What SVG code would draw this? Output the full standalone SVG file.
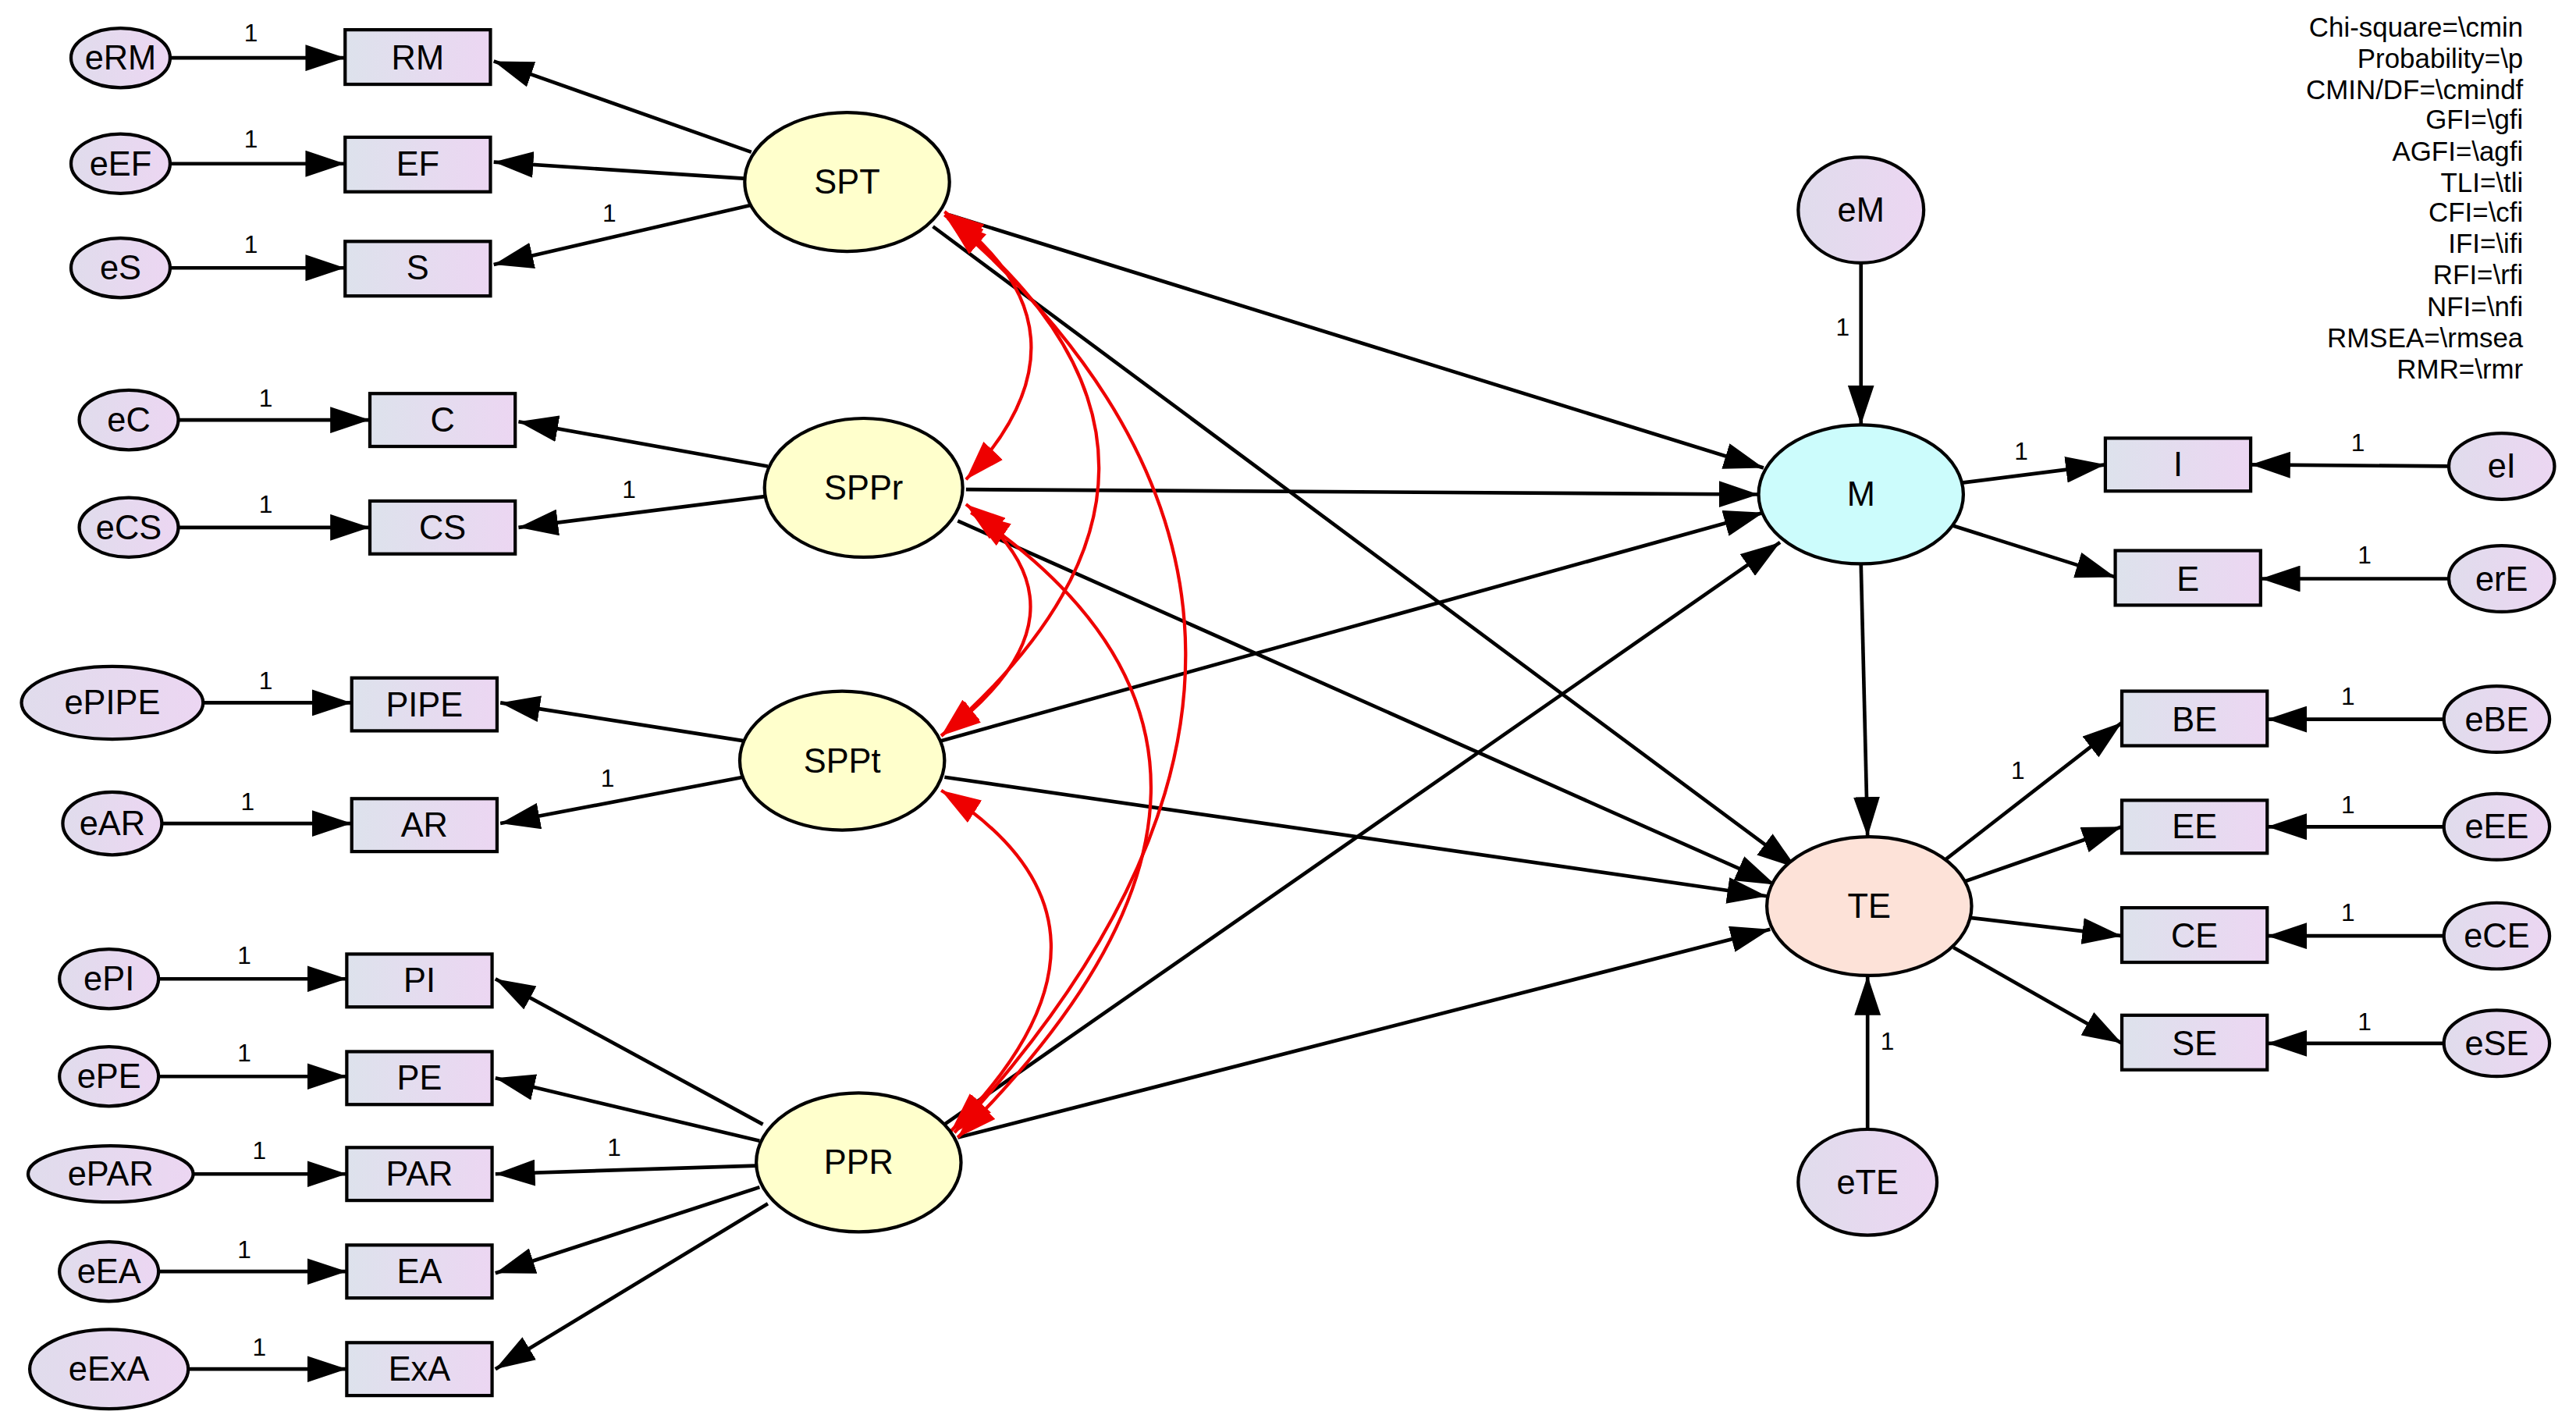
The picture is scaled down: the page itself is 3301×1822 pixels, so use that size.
<svg xmlns="http://www.w3.org/2000/svg" width="3301" height="1822" viewBox="0 0 3301 1822">
<style>
.n{stroke:#000;stroke-width:2}
.e{fill:url(#ge)}
.b{fill:url(#gb)}
.l{fill:#ffffcc}
text{font-family:"Liberation Sans",Arial,sans-serif;fill:#000}
.t{font-size:20.5px;text-anchor:middle;dominant-baseline:central}
.one{font-size:15px;text-anchor:middle}
.fit{font-size:16.5px;text-anchor:end}
.c line{stroke:#000;stroke-width:2.2;marker-end:url(#a)}
.r path{stroke:#e00;stroke-width:2;fill:none;marker-start:url(#ar);marker-end:url(#ar)}
</style>
<defs>
<linearGradient id="gb" x1="0" x2="1"><stop offset="0" stop-color="#dde2ec"/><stop offset="1" stop-color="#ecd6f2"/></linearGradient>
<linearGradient id="ge" x1="0" x2="1"><stop offset="0" stop-color="#e0dcec"/><stop offset="1" stop-color="#ecd6f2"/></linearGradient>
<marker id="a" markerUnits="userSpaceOnUse" markerWidth="24" markerHeight="16" refX="24" refY="8" orient="auto"><path d="M0,0L24,8L0,16z" fill="#000"/></marker>
<marker id="ar" markerUnits="userSpaceOnUse" markerWidth="24" markerHeight="16" refX="24" refY="8" orient="auto-start-reverse"><path d="M0,0L24,8L0,16z" fill="#e00"/></marker>
</defs>
<rect width="3301" height="1822" fill="#fff"/>
<g transform="scale(2.116,2.1186)">
<g id="connectors" class="c">
<line x1="103" y1="35" x2="209" y2="35"/>
<line x1="103" y1="99" x2="209" y2="99"/>
<line x1="103" y1="162" x2="209" y2="162"/>
<line x1="108" y1="254" x2="224" y2="254"/>
<line x1="108" y1="319" x2="224" y2="319"/>
<line x1="123" y1="425" x2="213" y2="425"/>
<line x1="98" y1="498" x2="213" y2="498"/>
<line x1="96" y1="592" x2="210" y2="592"/>
<line x1="96" y1="651" x2="210" y2="651"/>
<line x1="117" y1="710" x2="210" y2="710"/>
<line x1="96" y1="769" x2="210" y2="769"/>
<line x1="114" y1="828" x2="210" y2="828"/>
<line x1="455" y1="92" x2="299" y2="37"/>
<line x1="452" y1="108" x2="299" y2="98"/>
<line x1="455" y1="124" x2="299" y2="160"/>
<line x1="465" y1="282" x2="314" y2="255"/>
<line x1="465" y1="300" x2="314" y2="319"/>
<line x1="450" y1="448" x2="303" y2="425"/>
<line x1="450" y1="470" x2="303" y2="498"/>
<line x1="462" y1="680" x2="300" y2="592"/>
<line x1="460" y1="690" x2="300" y2="652"/>
<line x1="458" y1="705" x2="300" y2="710"/>
<line x1="460" y1="718" x2="300" y2="770"/>
<line x1="465" y1="728" x2="300" y2="828"/>
<line x1="575" y1="130" x2="1068" y2="283"/>
<line x1="565" y1="137" x2="1088" y2="525"/>
<line x1="585" y1="296" x2="1065" y2="299"/>
<line x1="580" y1="315" x2="1075" y2="535"/>
<line x1="570" y1="448" x2="1068" y2="310"/>
<line x1="572" y1="470" x2="1070" y2="542"/>
<line x1="572" y1="680" x2="1078" y2="328"/>
<line x1="580" y1="688" x2="1072" y2="562"/>
<line x1="1127" y1="341" x2="1131" y2="506"/>
<line x1="1127" y1="159" x2="1127" y2="257"/>
<line x1="1131" y1="683" x2="1131" y2="590"/>
<line x1="1188" y1="292" x2="1275" y2="281"/>
<line x1="1183" y1="318" x2="1281" y2="349"/>
<line x1="1178" y1="520" x2="1285" y2="437"/>
<line x1="1190" y1="533" x2="1285" y2="500"/>
<line x1="1193" y1="555" x2="1285" y2="566"/>
<line x1="1183" y1="573" x2="1285" y2="631"/>
<line x1="1483" y1="282" x2="1363" y2="281"/>
<line x1="1483" y1="350" x2="1369" y2="350"/>
<line x1="1480" y1="435" x2="1373" y2="435"/>
<line x1="1480" y1="500" x2="1373" y2="500"/>
<line x1="1480" y1="566" x2="1373" y2="566"/>
<line x1="1480" y1="631" x2="1373" y2="631"/>
</g>
<g id="covariances" class="r">
<path d="M572,128 Q670,200 585,290"/>
<path d="M572,130 Q760,280 570,445"/>
<path d="M574,132 Q860,380 578,685"/>
<path d="M585,305 Q670,370 570,445"/>
<path d="M588,310 Q810,460 580,688"/>
<path d="M570,478 Q700,560 576,684"/>
</g>
<g id="weights" class="one">
<text x="152" y="25">1</text><text x="152" y="89">1</text><text x="152" y="153">1</text>
<text x="369" y="134">1</text><text x="161" y="246">1</text><text x="161" y="310">1</text>
<text x="381" y="301">1</text><text x="161" y="417">1</text><text x="150" y="490">1</text>
<text x="368" y="476">1</text><text x="148" y="583">1</text><text x="148" y="642">1</text>
<text x="157" y="701">1</text><text x="372" y="699">1</text><text x="148" y="761">1</text>
<text x="157" y="820">1</text><text x="1116" y="203">1</text><text x="1224" y="278">1</text>
<text x="1428" y="273">1</text><text x="1432" y="341">1</text><text x="1222" y="471">1</text>
<text x="1422" y="426">1</text><text x="1422" y="492">1</text><text x="1422" y="557">1</text>
<text x="1432" y="623">1</text><text x="1143" y="635">1</text>
</g>
<g id="eRM"><ellipse class="n e" cx="73" cy="35" rx="30" ry="18"/><text class="t" x="73" y="35">eRM</text></g>
<g id="eEF"><ellipse class="n e" cx="73" cy="99" rx="30" ry="18"/><text class="t" x="73" y="99">eEF</text></g>
<g id="eS"><ellipse class="n e" cx="73" cy="162" rx="30" ry="18"/><text class="t" x="73" y="162">eS</text></g>
<g id="eC"><ellipse class="n e" cx="78" cy="254" rx="30" ry="18"/><text class="t" x="78" y="254">eC</text></g>
<g id="eCS"><ellipse class="n e" cx="78" cy="319" rx="30" ry="18"/><text class="t" x="78" y="319">eCS</text></g>
<g id="ePIPE"><ellipse class="n e" cx="68" cy="425" rx="55" ry="22"/><text class="t" x="68" y="425">ePIPE</text></g>
<g id="eAR"><ellipse class="n e" cx="68" cy="498" rx="30" ry="19"/><text class="t" x="68" y="498">eAR</text></g>
<g id="ePI"><ellipse class="n e" cx="66" cy="592" rx="30" ry="18"/><text class="t" x="66" y="592">ePI</text></g>
<g id="ePE"><ellipse class="n e" cx="66" cy="651" rx="30" ry="18"/><text class="t" x="66" y="651">ePE</text></g>
<g id="ePAR"><ellipse class="n e" cx="67" cy="710" rx="50" ry="17"/><text class="t" x="67" y="710">ePAR</text></g>
<g id="eEA"><ellipse class="n e" cx="66" cy="769" rx="30" ry="18"/><text class="t" x="66" y="769">eEA</text></g>
<g id="eExA"><ellipse class="n e" cx="66" cy="828" rx="48" ry="24"/><text class="t" x="66" y="828">eExA</text></g>
<g id="RM"><rect class="n b" x="209" y="18" width="88" height="33"/><text class="t" x="253" y="35">RM</text></g>
<g id="EF"><rect class="n b" x="209" y="83" width="88" height="33"/><text class="t" x="253" y="99">EF</text></g>
<g id="S"><rect class="n b" x="209" y="146" width="88" height="33"/><text class="t" x="253" y="162">S</text></g>
<g id="C"><rect class="n b" x="224" y="238" width="88" height="32"/><text class="t" x="268" y="254">C</text></g>
<g id="CS"><rect class="n b" x="224" y="303" width="88" height="32"/><text class="t" x="268" y="319">CS</text></g>
<g id="PIPE"><rect class="n b" x="213" y="410" width="88" height="32"/><text class="t" x="257" y="426">PIPE</text></g>
<g id="AR"><rect class="n b" x="213" y="483" width="88" height="32"/><text class="t" x="257" y="499">AR</text></g>
<g id="PI"><rect class="n b" x="210" y="577" width="88" height="32"/><text class="t" x="254" y="593">PI</text></g>
<g id="PE"><rect class="n b" x="210" y="636" width="88" height="32"/><text class="t" x="254" y="652">PE</text></g>
<g id="PAR"><rect class="n b" x="210" y="694" width="88" height="32"/><text class="t" x="254" y="710">PAR</text></g>
<g id="EA"><rect class="n b" x="210" y="753" width="88" height="32"/><text class="t" x="254" y="769">EA</text></g>
<g id="ExA"><rect class="n b" x="210" y="812" width="88" height="32"/><text class="t" x="254" y="828">ExA</text></g>
<g id="SPT"><ellipse class="n l" cx="513" cy="110" rx="62" ry="42"/><text class="t" x="513" y="110">SPT</text></g>
<g id="SPPr"><ellipse class="n l" cx="523" cy="295" rx="60" ry="42"/><text class="t" x="523" y="295">SPPr</text></g>
<g id="SPPt"><ellipse class="n l" cx="510" cy="460" rx="62" ry="42"/><text class="t" x="510" y="460">SPPt</text></g>
<g id="PPR"><ellipse class="n l" cx="520" cy="703" rx="62" ry="42"/><text class="t" x="520" y="703">PPR</text></g>
<g id="M"><ellipse class="n" fill="#ccfcfc" cx="1127" cy="299" rx="62" ry="42"/><text class="t" x="1127" y="299">M</text></g>
<g id="TE"><ellipse class="n" fill="#fde2d8" cx="1132" cy="548" rx="62" ry="42"/><text class="t" x="1132" y="548">TE</text></g>
<g id="eM"><ellipse class="n e" cx="1127" cy="127" rx="38" ry="32"/><text class="t" x="1127" y="127">eM</text></g>
<g id="eTE"><ellipse class="n e" cx="1131" cy="715" rx="42" ry="32"/><text class="t" x="1131" y="715">eTE</text></g>
<g id="I"><rect class="n b" x="1275" y="265" width="88" height="32"/><text class="t" x="1319" y="281">I</text></g>
<g id="E"><rect class="n b" x="1281" y="333" width="88" height="33"/><text class="t" x="1325" y="350">E</text></g>
<g id="BE"><rect class="n b" x="1285" y="418" width="88" height="33"/><text class="t" x="1329" y="435">BE</text></g>
<g id="EE"><rect class="n b" x="1285" y="484" width="88" height="32"/><text class="t" x="1329" y="500">EE</text></g>
<g id="CE"><rect class="n b" x="1285" y="549" width="88" height="33"/><text class="t" x="1329" y="566">CE</text></g>
<g id="SE"><rect class="n b" x="1285" y="614" width="88" height="33"/><text class="t" x="1329" y="631">SE</text></g>
<g id="eI"><ellipse class="n e" cx="1515" cy="282" rx="32" ry="20"/><text class="t" x="1515" y="282">eI</text></g>
<g id="erE"><ellipse class="n e" cx="1515" cy="350" rx="32" ry="20"/><text class="t" x="1515" y="350">erE</text></g>
<g id="eBE"><ellipse class="n e" cx="1512" cy="435" rx="32" ry="20"/><text class="t" x="1512" y="435">eBE</text></g>
<g id="eEE"><ellipse class="n e" cx="1512" cy="500" rx="32" ry="20"/><text class="t" x="1512" y="500">eEE</text></g>
<g id="eCE"><ellipse class="n e" cx="1512" cy="566" rx="32" ry="20"/><text class="t" x="1512" y="566">eCE</text></g>
<g id="eSE"><ellipse class="n e" cx="1512" cy="631" rx="32" ry="20"/><text class="t" x="1512" y="631">eSE</text></g>
<g id="fit" class="fit">
<text x="1528" y="22">Chi-square=\cmin</text>
<text x="1528" y="41">Probability=\p</text>
<text x="1528" y="60">CMIN/DF=\cmindf</text>
<text x="1528" y="78">GFI=\gfi</text>
<text x="1528" y="97">AGFI=\agfi</text>
<text x="1528" y="116">TLI=\tli</text>
<text x="1528" y="134">CFI=\cfi</text>
<text x="1528" y="153">IFI=\ifi</text>
<text x="1528" y="172">RFI=\rfi</text>
<text x="1528" y="191">NFI=\nfi</text>
<text x="1528" y="210">RMSEA=\rmsea</text>
<text x="1528" y="229">RMR=\rmr</text>
</g>
</g>
</svg>
